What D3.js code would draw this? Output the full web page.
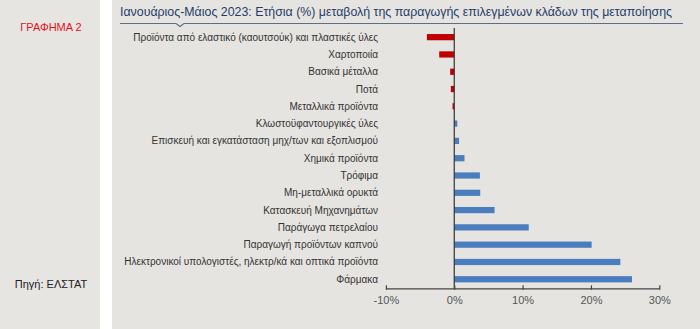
<!DOCTYPE html>
<html>
<head>
<meta charset="utf-8">
<script src="https://cdn.jsdelivr.net/npm/d3@7"></script>
<style>
  html, body { margin: 0; padding: 0; background: #ffffff; }
  svg { display: block; font-family: "Liberation Sans", Arial, sans-serif; }
</style>
</head>
<body>
<svg id="chart" width="700" height="329"></svg>
<script>
// Sectors of manufacturing, top to bottom
const categories = [
  "Προϊόντα από ελαστικό (καουτσούκ) και πλαστικές ύλες",
  "Χαρτοποιία",
  "Βασικά μέταλλα",
  "Ποτά",
  "Μεταλλικά προϊόντα",
  "Κλωστοϋφαντουργικές ύλες",
  "Επισκευή και εγκατάσταση μηχ/των και εξοπλισμού",
  "Χημικά προϊόντα",
  "Τρόφιμα",
  "Μη-μεταλλικά ορυκτά",
  "Κατασκευή Μηχανημάτων",
  "Παράγωγα πετρελαίου",
  "Παραγωγή προϊόντων καπνού",
  "Ηλεκτρονικοί υπολογιστές, ηλεκτρ/κά και οπτικά προϊόντα",
  "Φάρμακα"
];
// Annual change (%) in production, Jan–May 2023
const values = [-4.0, -2.2, -0.6, -0.5, -0.25, 0.45, 0.7, 1.5, 3.75, 3.8, 5.9, 10.9, 20.1, 24.3, 26.0];
const tickValues = [-10, 0, 10, 20, 30];

const title = "Ιανουάριος-Μάιος 2023: Ετήσια (%) μεταβολή της παραγωγής επιλεγμένων κλάδων της μεταποίησης";
const chartLabel = "ΓΡΑΦΗΜΑ 2";
const sourceLabel = "Πηγή: ΕΛΣΤΑΤ";

const svg = d3.select("#chart");

// Side panel and main panel backgrounds
svg.append("rect").attr("x", 0).attr("y", 0).attr("width", 100).attr("height", 329).attr("fill", "#e7e5e2");
svg.append("rect").attr("x", 112).attr("y", 0).attr("width", 588).attr("height", 329).attr("fill", "#e6e4e0");

svg.append("text").attr("x", 51).attr("y", 31).attr("text-anchor", "middle")
  .attr("font-size", 11).attr("fill", "#e3101b").text(chartLabel);
svg.append("text").attr("x", 51).attr("y", 288).attr("text-anchor", "middle")
  .attr("font-size", 11).attr("fill", "#222").text(sourceLabel);

// Title with underline rule and small notch
svg.append("text").attr("x", 120).attr("y", 16)
  .attr("font-size", 12.6).attr("fill", "#1f3d6b")
  .attr("textLength", 552).attr("lengthAdjust", "spacingAndGlyphs")
  .text(title);
svg.append("path")
  .attr("d", "M120,23.5 H176 L180,26.5 L184,23.5 H683")
  .attr("fill", "none").attr("stroke", "#5d6f88").attr("stroke-width", 1.2);

const x = d3.scaleLinear().domain([-10, 30]).range([385.9, 659.3]);
const y = d3.scaleBand().domain(categories).range([28.5, 287.9]).paddingInner(0.64).paddingOuter(0.32);

const g = svg.append("g");

// Bars
g.selectAll("rect.bar").data(values).join("rect")
  .attr("class", "bar")
  .attr("x", d => x(Math.min(0, d)))
  .attr("width", d => Math.abs(x(d) - x(0)))
  .attr("y", (d, i) => y(categories[i]))
  .attr("height", y.bandwidth())
  .attr("fill", d => d < 0 ? "#c00000" : "#4a7dbd");

// Category labels
g.selectAll("text.cat").data(categories).join("text")
  .attr("class", "cat")
  .attr("x", 378)
  .attr("y", d => y(d) + y.bandwidth() / 2)
  .attr("dy", "0.35em")
  .attr("text-anchor", "end")
  .attr("font-size", 10)
  .attr("fill", "#333")
  .text(d => d);

// Zero line
g.append("line")
  .attr("x1", x(0)).attr("x2", x(0))
  .attr("y1", 28).attr("y2", 288.3)
  .attr("stroke", "#333").attr("stroke-width", 1.2);

// Horizontal value axis
const axis = d3.axisBottom(x).tickValues(tickValues)
  .tickFormat(d => d + "%").tickSizeInner(-3).tickSizeOuter(0).tickPadding(8);
const ax = svg.append("g").attr("transform", "translate(0,288.3)").call(axis);
ax.select(".domain").attr("stroke", "#444").attr("stroke-width", 1.2);
ax.selectAll(".tick line").attr("stroke", "#444").attr("stroke-width", 1.2).attr("y1", 1.5);
ax.selectAll(".tick text").attr("font-size", 11).attr("fill", "#555")
  .attr("font-family", "Liberation Sans, Arial, sans-serif");
</script>
</body>
</html>
